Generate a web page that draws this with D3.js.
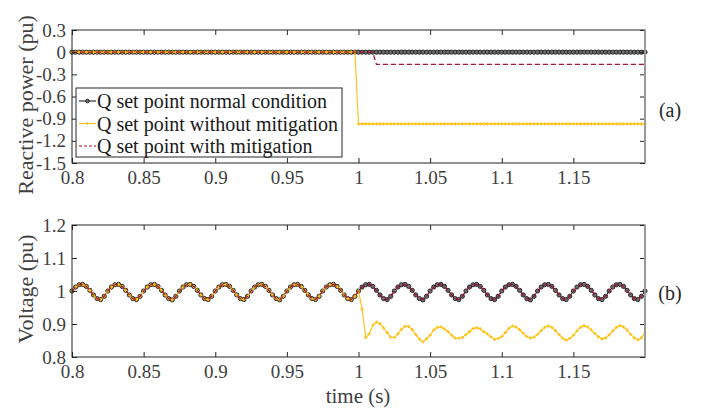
<!DOCTYPE html>
<html>
<head>
<meta charset="utf-8">
<script src="https://cdn.jsdelivr.net/npm/d3@7"></script>
<style>
  body { margin: 0; background: #fff; }
  svg text { font-family: "Liberation Serif", "Times New Roman", Times, "DejaVu Serif", serif; }
</style>
</head>
<body>
<div id="chart"></div>
<script>
// sampling of the recorded signals
var t0 = 0.8;
var dt = 0.0025;

// (a) reactive power set points, one value per sample
var qNormal = [
  0,0,0,0,0,0,0,0,0,0,0,0,0,0,0,0,0,0,0,0,
  0,0,0,0,0,0,0,0,0,0,0,0,0,0,0,0,0,0,0,0,
  0,0,0,0,0,0,0,0,0,0,0,0,0,0,0,0,0,0,0,0,
  0,0,0,0,0,0,0,0,0,0,0,0,0,0,0,0,0,0,0,0,
  0,0,0,0,0,0,0,0,0,0,0,0,0,0,0,0,0,0,0,0,
  0,0,0,0,0,0,0,0,0,0,0,0,0,0,0,0,0,0,0,0,
  0,0,0,0,0,0,0,0,0,0,0,0,0,0,0,0,0,0,0,0,
  0,0,0,0,0,0,0,0,0,0,0,0,0,0,0,0,0,0,0,0,
  0
];
var qWithout = [
  0,0,0,0,0,0,0,0,0,0,0,0,0,0,0,0,0,0,0,0,
  0,0,0,0,0,0,0,0,0,0,0,0,0,0,0,0,0,0,0,0,
  0,0,0,0,0,0,0,0,0,0,0,0,0,0,0,0,0,0,0,0,
  0,0,0,0,0,0,0,0,0,0,0,0,0,0,0,0,0,0,0,0,
  -0.97,-0.97,-0.97,-0.97,-0.97,-0.97,-0.97,-0.97,-0.97,-0.97,
  -0.97,-0.97,-0.97,-0.97,-0.97,-0.97,-0.97,-0.97,-0.97,-0.97,
  -0.97,-0.97,-0.97,-0.97,-0.97,-0.97,-0.97,-0.97,-0.97,-0.97,
  -0.97,-0.97,-0.97,-0.97,-0.97,-0.97,-0.97,-0.97,-0.97,-0.97,
  -0.97,-0.97,-0.97,-0.97,-0.97,-0.97,-0.97,-0.97,-0.97,-0.97,
  -0.97,-0.97,-0.97,-0.97,-0.97,-0.97,-0.97,-0.97,-0.97,-0.97,
  -0.97,-0.97,-0.97,-0.97,-0.97,-0.97,-0.97,-0.97,-0.97,-0.97,
  -0.97,-0.97,-0.97,-0.97,-0.97,-0.97,-0.97,-0.97,-0.97,-0.97,
  -0.97
];
var qWith = [
  0,0,0,0,0,0,0,0,0,0,0,0,0,0,0,0,0,0,0,0,
  0,0,0,0,0,0,0,0,0,0,0,0,0,0,0,0,0,0,0,0,
  0,0,0,0,0,0,0,0,0,0,0,0,0,0,0,0,0,0,0,0,
  0,0,0,0,0,0,0,0,0,0,0,0,0,0,0,0,0,0,0,0,
  0,0,0,0,0,
  -0.165,-0.165,-0.165,-0.165,-0.165,-0.165,-0.165,-0.165,-0.165,-0.165,
  -0.165,-0.165,-0.165,-0.165,-0.165,-0.165,-0.165,-0.165,-0.165,-0.165,
  -0.165,-0.165,-0.165,-0.165,-0.165,-0.165,-0.165,-0.165,-0.165,-0.165,
  -0.165,-0.165,-0.165,-0.165,-0.165,-0.165,-0.165,-0.165,-0.165,-0.165,
  -0.165,-0.165,-0.165,-0.165,-0.165,-0.165,-0.165,-0.165,-0.165,-0.165,
  -0.165,-0.165,-0.165,-0.165,-0.165,-0.165,-0.165,-0.165,-0.165,-0.165,
  -0.165,-0.165,-0.165,-0.165,-0.165,-0.165,-0.165,-0.165,-0.165,-0.165,
  -0.165,-0.165,-0.165,-0.165,-0.165,-0.165
];

// (b) voltage, one value per sample
var vNormal = [
  1.000,1.012,1.019,1.020,1.014,1.002,0.988,0.977,0.974,0.984,
  1.000,1.012,1.019,1.020,1.014,1.002,0.988,0.977,0.974,0.984,
  1.000,1.012,1.019,1.020,1.014,1.002,0.988,0.977,0.973,0.984,
  1.000,1.012,1.019,1.020,1.014,1.002,0.988,0.977,0.974,0.984,
  1.000,1.012,1.019,1.020,1.014,1.002,0.988,0.977,0.974,0.984,
  1.000,1.012,1.019,1.020,1.014,1.002,0.988,0.977,0.973,0.984,
  1.000,1.012,1.019,1.020,1.014,1.002,0.988,0.977,0.974,0.984,
  1.000,1.012,1.019,1.020,1.014,1.002,0.988,0.977,0.974,0.984,
  1.000,1.012,1.019,1.020,1.014,1.002,0.988,0.977,0.974,0.984,
  1.000,1.012,1.019,1.020,1.014,1.002,0.988,0.977,0.973,0.984,
  1.000,1.012,1.019,1.020,1.014,1.002,0.988,0.977,0.974,0.984,
  1.000,1.012,1.019,1.020,1.014,1.002,0.988,0.977,0.974,0.984,
  1.000,1.012,1.019,1.020,1.014,1.002,0.988,0.977,0.973,0.984,
  1.000,1.012,1.019,1.020,1.014,1.002,0.988,0.977,0.974,0.984,
  1.000,1.012,1.019,1.020,1.014,1.002,0.988,0.977,0.974,0.984,
  1.000,1.012,1.019,1.020,1.014,1.002,0.988,0.977,0.974,0.984,
  1.000
];
var vWithout = [
  1.000,1.012,1.019,1.020,1.014,1.002,0.988,0.977,0.974,0.984,
  1.000,1.012,1.019,1.020,1.014,1.002,0.988,0.977,0.974,0.984,
  1.000,1.012,1.019,1.020,1.014,1.002,0.988,0.977,0.973,0.984,
  1.000,1.012,1.019,1.020,1.014,1.002,0.988,0.977,0.974,0.984,
  1.000,1.012,1.019,1.020,1.014,1.002,0.988,0.977,0.974,0.984,
  1.000,1.012,1.019,1.020,1.014,1.002,0.988,0.977,0.973,0.984,
  1.000,1.012,1.019,1.020,1.014,1.002,0.988,0.977,0.974,0.984,
  1.000,1.012,1.019,1.020,1.014,1.002,0.988,0.977,0.974,0.984,
  1.000,0.945,0.859,0.870,0.896,0.906,0.901,0.888,0.874,0.860,
  0.859,0.870,0.884,0.893,0.893,0.883,0.868,0.854,0.846,0.855,
  0.866,0.882,0.890,0.891,0.885,0.877,0.866,0.857,0.857,0.859,
  0.868,0.877,0.886,0.889,0.885,0.877,0.870,0.861,0.853,0.856,
  0.862,0.874,0.887,0.894,0.891,0.883,0.872,0.862,0.857,0.860,
  0.869,0.880,0.890,0.894,0.890,0.880,0.868,0.857,0.851,0.856,
  0.866,0.879,0.890,0.895,0.891,0.882,0.871,0.861,0.855,0.858,
  0.867,0.879,0.890,0.895,0.891,0.882,0.869,0.858,0.852,0.858,
  0.873
];
// with mitigation the voltage follows the normal trace
var vWith = vNormal;

var xTicks = [0.8, 0.85, 0.9, 0.95, 1, 1.05, 1.1, 1.15];
var qTicks = [0.3, 0, -0.3, -0.6, -0.9, -1.2, -1.5];
var vTicks = [0.8, 0.9, 1, 1.1, 1.2];
var legendLabels = [
  "Q set point normal condition",
  "Q set point without mitigation",
  "Q set point with mitigation"
];

var width = 702;
var height = 413;
var colNormal = "#1c1c1c";
var colWithout = "#ffbf10";
var colWith = "#a2142f";
var textCol = "#404040";

var svg = d3.select("#chart").append("svg")
  .attr("width", width)
  .attr("height", height);

var xScale = d3.scaleLinear().domain([0.8, 1.2]).range([72, 645]);
var yQ = d3.scaleLinear().domain([-1.5, 0.3]).range([163, 30]);
var yV = d3.scaleLinear().domain([0.8, 1.2]).range([357, 225]);

function tOf(i) { return t0 + i * dt; }

function drawPanel(y, yTicks, fmt, series) {
  var top = y.range()[1], bottom = y.range()[0];
  var left = xScale.range()[0], right = xScale.range()[1];
  var g = svg.append("g");

  // box background
  g.append("rect")
    .attr("x", left).attr("y", top)
    .attr("width", right - left).attr("height", bottom - top)
    .attr("fill", "#fff");

  var clipId = "clip" + top;
  svg.append("clipPath").attr("id", clipId)
    .append("rect")
    .attr("x", left - 3).attr("y", top - 3)
    .attr("width", right - left + 6).attr("height", bottom - top + 6);

  var plot = g.append("g").attr("clip-path", "url(#" + clipId + ")");

  series.forEach(function (s) {
    var line = d3.line()
      .x(function (d, i) { return xScale(tOf(i)); })
      .y(function (d) { return y(d); });
    plot.append("path")
      .datum(s.values)
      .attr("fill", "none")
      .attr("stroke", s.color)
      .attr("stroke-width", s.width)
      .attr("stroke-dasharray", s.dash || null)
      .attr("d", line);
    if (s.marker === "circle") {
      plot.selectAll(null)
        .data(s.values)
        .enter().append("circle")
        .attr("cx", function (d, i) { return xScale(tOf(i)); })
        .attr("cy", function (d) { return y(d); })
        .attr("r", 2.1)
        .attr("fill", "#6e6e6e")
        .attr("stroke", colNormal)
        .attr("stroke-width", 0.9);
    } else if (s.marker === "plus") {
      plot.selectAll(null)
        .data(s.values)
        .enter().append("path")
        .attr("transform", function (d, i) {
          return "translate(" + xScale(tOf(i)) + "," + y(d) + ")";
        })
        .attr("d", "M-1.6,0H1.6M0,-1.6V1.6")
        .attr("stroke", s.color)
        .attr("stroke-width", 1.1);
    }
  });

  // axes with inward ticks (MATLAB style)
  var xb = g.append("g")
    .attr("transform", "translate(0," + bottom + ")")
    .call(d3.axisBottom(xScale).tickValues(xTicks).tickSize(-5).tickPadding(8)
      .tickFormat(function (d) { return String(d); }));
  var xt = g.append("g")
    .attr("transform", "translate(0," + top + ")")
    .call(d3.axisTop(xScale).tickValues(xTicks).tickSize(-5).tickFormat(""));
  var yl = g.append("g")
    .attr("transform", "translate(" + left + ",0)")
    .call(d3.axisLeft(y).tickValues(yTicks).tickSize(-5).tickPadding(6)
      .tickFormat(fmt));
  var yr = g.append("g")
    .attr("transform", "translate(" + right + ",0)")
    .call(d3.axisRight(y).tickValues(yTicks).tickSize(-5).tickFormat(""));

  [xb, xt, yl, yr].forEach(function (a) {
    a.attr("font-family", null);
    a.select(".domain").remove();
    a.selectAll("line").attr("stroke", "#262626");
    a.selectAll("text")
      .attr("fill", textCol)
      .style("font-size", "19px");
  });

  // frame
  g.append("rect")
    .attr("x", left).attr("y", top)
    .attr("width", right - left).attr("height", bottom - top)
    .attr("fill", "none")
    .attr("stroke", "#262626")
    .attr("stroke-width", 1);
  g.append("line")
    .attr("x1", right).attr("x2", right)
    .attr("y1", top).attr("y2", bottom)
    .attr("stroke", "#9a9a9a")
    .attr("stroke-width", 2);
  return g;
}

drawPanel(yQ, qTicks, function (d) { return String(d); }, [
  { values: qNormal, color: colNormal, width: 1, marker: "circle" },
  { values: qWithout, color: colWithout, width: 1.1, marker: "plus" },
  { values: qWith, color: colWith, width: 1.2, dash: "5,3" }
]);

drawPanel(yV, vTicks, function (d) { return String(d); }, [
  { values: vNormal, color: colNormal, width: 1, marker: "circle" },
  { values: vWithout, color: colWithout, width: 1.1, marker: "plus" },
  { values: vWith, color: colWith, width: 1.2, dash: "5,3" }
]);

// legend for panel (a)
var lg = svg.append("g");
lg.append("rect")
  .attr("x", 76).attr("y", 88)
  .attr("width", 266).attr("height", 69)
  .attr("fill", "#fff")
  .attr("stroke", "#262626")
  .attr("stroke-width", 1);
var legendStyle = [
  { color: colNormal, marker: "circle" },
  { color: colWithout, marker: "plus" },
  { color: colWith, dash: "3,2" }
];
legendLabels.forEach(function (label, i) {
  var yy = 101 + i * 22.5;
  var st = legendStyle[i];
  lg.append("line")
    .attr("x1", 79).attr("x2", 96)
    .attr("y1", yy).attr("y2", yy)
    .attr("stroke", st.color)
    .attr("stroke-width", 1.1)
    .attr("stroke-dasharray", st.dash || null);
  if (st.marker === "circle") {
    lg.append("circle").attr("cx", 87.5).attr("cy", yy).attr("r", 1.8)
      .attr("fill", "#6e6e6e").attr("stroke", colNormal).attr("stroke-width", 0.9);
  } else if (st.marker === "plus") {
    lg.append("path")
      .attr("transform", "translate(87.5," + yy + ")")
      .attr("d", "M-1.6,0H1.6M0,-1.6V1.6")
      .attr("stroke", st.color).attr("stroke-width", 1.1);
  }
  lg.append("text")
    .attr("x", 97).attr("y", yy)
    .attr("dy", "0.35em")
    .attr("fill", "#1a1a1a")
    .style("font-size", "20px")
    .text(label);
});

// axis titles and panel tags
svg.append("text")
  .attr("transform", "translate(33,105) rotate(-90)")
  .attr("text-anchor", "middle")
  .attr("fill", textCol)
  .style("font-size", "22px")
  .text("Reactive power (pu)");
svg.append("text")
  .attr("transform", "translate(33,289) rotate(-90)")
  .attr("text-anchor", "middle")
  .attr("fill", textCol)
  .style("font-size", "22px")
  .text("Voltage (pu)");
svg.append("text")
  .attr("x", 358).attr("y", 403)
  .attr("text-anchor", "middle")
  .attr("fill", textCol)
  .style("font-size", "21px")
  .text("time (s)");
svg.append("text")
  .attr("x", 670).attr("y", 117)
  .attr("text-anchor", "middle")
  .attr("fill", "#262626")
  .style("font-size", "20px")
  .text("(a)");
svg.append("text")
  .attr("x", 670).attr("y", 300)
  .attr("text-anchor", "middle")
  .attr("fill", "#262626")
  .style("font-size", "20px")
  .text("(b)");
</script>
</body>
</html>
